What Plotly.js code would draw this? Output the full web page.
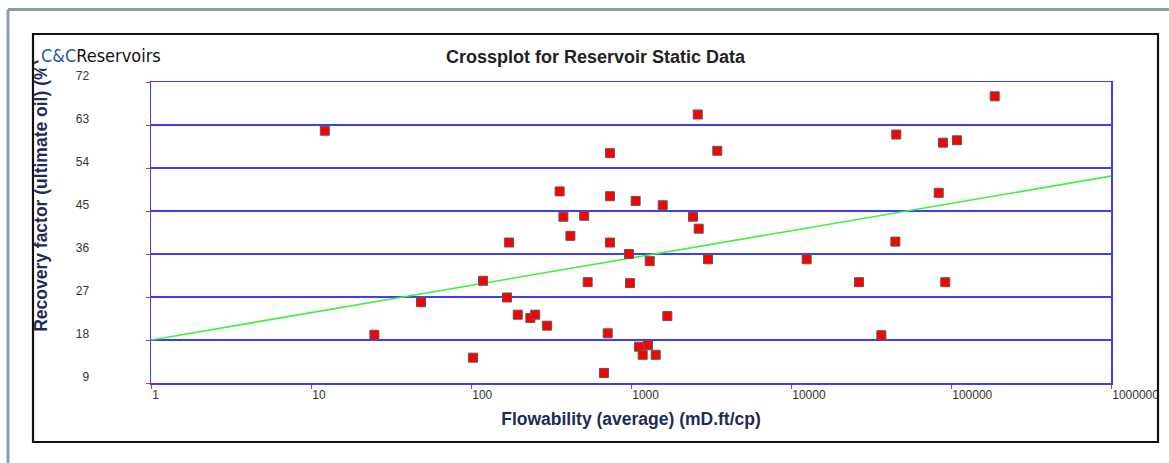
<!DOCTYPE html>
<html>
<head>
<meta charset="utf-8">
<script src="https://cdn.plot.ly/plotly-3.0.1.min.js"></script>
<style>html,body{margin:0;padding:0;background:#fff;}#chart{width:1169px;height:463px;}</style>
</head>
<body>
<div id="chart"></div>
<script>
// Data
const flowability = [12.2, 24.9, 48.7, 103, 119, 168, 173, 196, 235, 252, 299, 358, 378, 418, 510, 536,
  678, 715, 739, 739, 739, 972, 986, 1069, 1122, 1183, 1277, 1309, 1427, 1578, 1687, 2441, 2612, 2649,
  3030, 3462, 12530, 26600, 36700, 44900, 45500, 83800, 89100, 92100, 109000, 187500];
const recovery = [61.8, 19.1, 25.9, 14.3, 30.4, 26.9, 38.4, 23.3, 22.6, 23.3, 21.0, 49.1, 43.8, 39.8, 44.0, 30.1,
  11.1, 19.4, 57.1, 48.1, 38.4, 36.0, 29.9, 47.1, 16.6, 14.9, 16.9, 34.5, 14.9, 46.2, 23.0, 43.8, 65.2, 41.3,
  34.9, 57.6, 34.9, 30.1, 19.0, 38.6, 61.0, 48.8, 59.3, 30.1, 59.8, 69.0];
const trendX = [1, 1000000];
const trendY = [18.0, 52.3];
const xTickVals = [1, 10, 100, 1000, 10000, 100000, 1000000];
const xTickText = ["1", "10", "100", "1000", "10000", "100000", "1000000"];
const yTickVals = [9, 18, 27, 36, 45, 54, 63, 72];
const yTickText = ["9", "18", "27", "36", "45", "54", "63", "72"];

const FONT = '"Liberation Sans", Arial, sans-serif';
const NAVY = '#1c2b57';
const GRID = '#3d3dff';

const traces = [
  {
    x: trendX, y: trendY, type: 'scatter', mode: 'lines',
    line: {color: '#3ef03e', width: 1.6}, hoverinfo: 'skip', showlegend: false
  },
  {
    x: flowability, y: recovery, type: 'scatter', mode: 'markers',
    marker: {symbol: 'square', size: 9, color: '#ff0000', line: {color: '#5a5a5a', width: 1}},
    showlegend: false
  }
];

const layout = {
  width: 1169, height: 463,
  margin: {l: 151, r: 58, t: 82, b: 80},
  paper_bgcolor: '#ffffff', plot_bgcolor: '#ffffff',
  font: {family: FONT, color: '#333333', size: 12},
  title: {
    text: 'Crossplot for Reservoir Static Data',
    font: {family: FONT, size: 18, color: '#222222', weight: 'bold'},
    x: 0.463, xref: 'paper', xanchor: 'center',
    y: 0.877, yref: 'container', yanchor: 'middle'
  },
  xaxis: {
    type: 'log', range: [0, 6],
    tickvals: xTickVals, ticktext: xTickText,
    ticks: 'outside', ticklen: 4, tickcolor: '#ff2020', tickwidth: 1,
    ticklabelposition: 'outside right',
    tickfont: {family: FONT, size: 12, color: '#333333'},
    showgrid: false, zeroline: false,
    showline: true, linecolor: GRID, linewidth: 1.5, mirror: true,
    title: {text: 'Flowability (average) (mD.ft/cp)', font: {family: FONT, size: 17.5, color: NAVY, weight: 'bold'}, standoff: 12},
    automargin: false
  },
  yaxis: {
    range: [9, 72],
    tickvals: yTickVals, ticktext: yTickText,
    ticks: 'outside', ticklen: 4, tickcolor: '#ff2020', tickwidth: 1,
    ticklabelposition: 'outside top',
    ticklabelstandoff: 58,
    ticklabelshift: 3,
    tickfont: {family: FONT, size: 12, color: '#333333'},
    showgrid: true, gridcolor: GRID, gridwidth: 1.5, zeroline: false,
    showline: true, linecolor: GRID, linewidth: 1.5, mirror: true,
    automargin: false
  },
  shapes: [
    {type: 'rect', xref: 'paper', yref: 'paper', x0: 1.0495, x1: 1.07, y0: -0.2, y1: 0.02,
     fillcolor: '#ffffff', line: {width: 0}, layer: 'above'},
    {type: 'rect', xref: 'paper', yref: 'paper', x0: -0.12292, x1: 1.04896, y0: -0.19601, y1: 1.15947,
     line: {color: '#111111', width: 2.2}, fillcolor: 'rgba(0,0,0,0)', layer: 'above'},
    {type: 'line', xref: 'paper', yref: 'paper', x0: -0.14896, x1: -0.14896, y0: -0.2658, y1: 1.2409,
     line: {color: '#8e9ba8', width: 3}},
    {type: 'line', xref: 'paper', yref: 'paper', x0: -0.14896, x1: 1.0604, y0: 1.2409, y1: 1.2409,
     line: {color: '#8e9ba8', width: 3}}
  ],
  annotations: [
    {text: 'Recovery factor (ultimate oil) (%)', textangle: -90, showarrow: false,
     xref: 'paper', yref: 'paper', x: -0.1146, y: 0.625, xanchor: 'center', yanchor: 'middle',
     font: {family: FONT, size: 17.5, color: NAVY, weight: 'bold'}},
    {text: '<span style="color:#1a5ca8">C&amp;C</span>Reservoirs', showarrow: false,
     xref: 'paper', yref: 'paper', x: -0.1178, y: 1.0897, xanchor: 'left', yanchor: 'middle',
     bgcolor: '#ffffff', borderpad: 2,
     font: {family: '"Liberation Sans Narrow", "DejaVu Sans Condensed", sans-serif', size: 18, color: '#111111'}}
  ]
};

Plotly.newPlot('chart', traces, layout, {displayModeBar: false, staticPlot: true});
</script>
</body>
</html>
